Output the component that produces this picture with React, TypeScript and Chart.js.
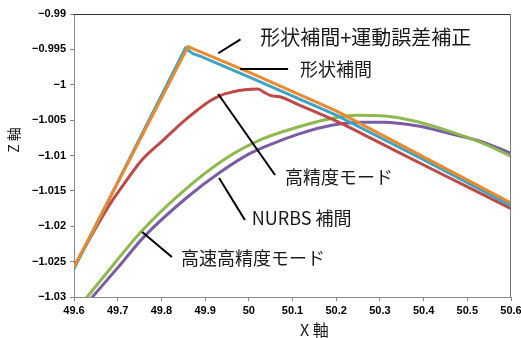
import React, { useEffect, useRef } from "react";
import { Chart, registerables } from "chart.js";

Chart.register(...registerables);

// ---- data ----
const xTickValues = [49.6, 49.7, 49.8, 49.9, 50.0, 50.1, 50.2, 50.3, 50.4, 50.5, 50.6];
const yTickValues = [-1.03, -1.025, -1.02, -1.015, -1.01, -1.005, -1.0, -0.995, -0.99];

// 形状補間+運動誤差補正
const compX = [49.6, 49.861, 50.0, 50.2, 50.4, 50.6];
const compY = [-1.0258, -0.9946, -0.9982, -1.0037, -1.0102, -1.0167];

// 形状補間
const shapeX = [49.6, 49.855, 49.872, 49.89, 50.0, 50.2, 50.4, 50.6];
const shapeY = [-1.026, -0.9948, -0.9956, -0.996, -0.9989, -1.0043, -1.0106, -1.0171];

// 高精度モード
const hpX = [49.6, 49.641, 49.684, 49.717, 49.753, 49.801, 49.852, 49.882, 49.911, 49.936, 49.964, 49.991, 50.021, 50.033, 50.049, 50.071, 50.117, 50.17, 50.209, 50.255, 50.415, 50.6];
const hpY = [-1.0257, -1.0212, -1.0167, -1.0138, -1.0108, -1.008, -1.0051, -1.0036, -1.0023, -1.0015, -1.001, -1.0007, -1.0006, -1.001, -1.0015, -1.0017, -1.0029, -1.0043, -1.0054, -1.0068, -1.0118, -1.0175];

// NURBS 補間
const nurbsX = [49.6, 49.63, 49.692, 49.753, 49.847, 49.943, 50.03, 50.117, 50.186, 50.247, 50.312, 50.384, 50.46, 50.536, 50.6];
const nurbsY = [-1.0323, -1.03, -1.0253, -1.0208, -1.0152, -1.0106, -1.0077, -1.0059, -1.0048, -1.0043, -1.0044, -1.0052, -1.0066, -1.0083, -1.0101];

// 高速高精度モード
const hsX = [49.6, 49.642, 49.701, 49.76, 49.859, 49.936, 50.003, 50.072, 50.117, 50.193, 50.255, 50.307, 50.384, 50.46, 50.536, 50.6];
const hsY = [-1.033, -1.03, -1.0258, -1.0215, -1.0159, -1.0123, -1.0097, -1.0079, -1.0069, -1.0057, -1.0053, -1.0053, -1.0058, -1.0069, -1.0081, -1.0097];

// annotation pointer lines [x1, y1, x2, y2] in data units
const pointerLines = [
  [49.93, -0.99555, 49.981, -0.99358],
  [49.98, -0.99777, 50.09, -0.99777],
  [49.93, -1.00131, 50.06, -1.01276],
  [49.932, -1.01318, 49.991, -1.01912],
  [49.756, -1.02081, 49.824, -1.02435],
];
const labelTexts = ["形状補間+運動誤差補正", "形状補間", "高精度モード", "NURBS 補間", "高速高精度モード"];
const labelX = [50.026, 50.117, 50.083, 50.007, 49.845];
const labelY = [-0.99325, -0.99777, -1.01311, -1.0189, -1.02456];
const labelSize = [20, 18, 18, 18, 18];

const zip = (xs: number[], ys: number[]) => xs.map((x, i) => ({ x, y: ys[i] }));

const fmtX = (v: number) => String(Number(v.toFixed(1)));
const fmtY = (v: number) => String(Number(v.toFixed(3))).replace("-", "\u2212");

const decorPlugin = {
  id: "decor",
  afterDatasetsDraw(chart: any) {
    const { ctx, scales } = chart;
    const xs = scales.x;
    const ys = scales.y;
    ctx.save();
    ctx.strokeStyle = "#000";
    ctx.lineWidth = 2;
    ctx.lineCap = "butt";
    pointerLines.forEach(([x1, y1, x2, y2]) => {
      ctx.beginPath();
      ctx.moveTo(xs.getPixelForValue(x1), ys.getPixelForValue(y1));
      ctx.lineTo(xs.getPixelForValue(x2), ys.getPixelForValue(y2));
      ctx.stroke();
    });
    ctx.fillStyle = "#1a1a1a";
    ctx.textBaseline = "middle";
    ctx.textAlign = "left";
    labelTexts.forEach((t, i) => {
      ctx.font = `${labelSize[i]}px "Noto Sans CJK JP"`;
      ctx.fillText(t, xs.getPixelForValue(labelX[i]), ys.getPixelForValue(labelY[i]));
    });
    ctx.restore();
  },
  afterDraw(chart: any) {
    const { ctx, chartArea } = chart;
    const { left, right, top, bottom } = chartArea;
    ctx.save();
    ctx.lineWidth = 1;
    ctx.strokeStyle = "#333";
    ctx.beginPath();
    ctx.moveTo(left, top + 0.5);
    ctx.lineTo(right, top + 0.5);
    ctx.stroke();
    ctx.strokeStyle = "#777";
    ctx.beginPath();
    ctx.moveTo(right - 0.5, top);
    ctx.lineTo(right - 0.5, bottom);
    ctx.stroke();
    // axis titles
    ctx.fillStyle = "#1a1a1a";
    ctx.textAlign = "center";
    ctx.textBaseline = "middle";
    ctx.font = `16px "Noto Sans CJK JP"`;
    ctx.fillText("X 軸", left + (right - left) * 0.55, bottom + 33);
    ctx.save();
    ctx.translate(14, top + (bottom - top) * 0.445);
    ctx.rotate(-Math.PI / 2);
    ctx.font = `14px "Noto Sans CJK JP"`;
    ctx.fillText("Z 軸", 0, 0);
    ctx.restore();
    ctx.restore();
  },
};

export default function App() {
  const ref = useRef<HTMLCanvasElement | null>(null);
  useEffect(() => {
    document.body.style.margin = "0";
    const canvas = ref.current!;
    const tickFont = { family: "Liberation Sans", size: 11, weight: "bold" as const };
    const mk = (label: string, data: any, color: string, smooth: boolean) => ({
      label,
      data,
      borderColor: color,
      backgroundColor: color,
      borderWidth: 3,
      pointRadius: 0,
      cubicInterpolationMode: smooth ? ("monotone" as const) : ("default" as const),
      tension: smooth ? 0.4 : 0,
      fill: false,
    });
    const chart = new Chart(canvas, {
      type: "line",
      data: {
        datasets: [
          mk("形状補間+運動誤差補正", zip(compX, compY), "#E98A2E", false),
          mk("形状補間", zip(shapeX, shapeY), "#3FA3C2", false),
          mk("高精度モード", zip(hpX, hpY), "#BD4A47", true),
          mk("NURBS 補間", zip(nurbsX, nurbsY), "#8DB94E", true),
          mk("高速高精度モード", zip(hsX, hsY), "#7B5CA4", true),
        ],
      },
      options: {
        responsive: false,
        animation: false,
        layout: { padding: { left: 0, right: 10, top: 14, bottom: 0 } },
        plugins: { legend: { display: false }, tooltip: { enabled: false } },
        scales: {
          x: {
            type: "linear",
            min: 49.6,
            max: 50.6,
            afterBuildTicks: (s: any) => {
              s.ticks = xTickValues.map((value) => ({ value }));
            },
            afterFit: (s: any) => {
              s.height = 41;
              s.paddingLeft = 0;
              s.paddingRight = 0;
            },
            ticks: {
              callback: (v: any) => fmtX(Number(v)),
              font: tickFont,
              color: "#000",
              padding: 3,
              maxRotation: 0,
              autoSkip: false,
            },
            grid: { drawOnChartArea: false, tickLength: 4, color: "#888" },
            border: { color: "#888", width: 1 },
          },
          y: {
            type: "linear",
            min: -1.03,
            max: -0.99,
            afterBuildTicks: (s: any) => {
              s.ticks = yTickValues.map((value) => ({ value }));
            },
            afterFit: (s: any) => {
              s.width = 74;
              s.paddingTop = 0;
              s.paddingBottom = 0;
            },
            ticks: {
              callback: (v: any) => fmtY(Number(v)),
              font: tickFont,
              color: "#000",
              padding: 4,
              autoSkip: false,
            },
            grid: { drawOnChartArea: false, tickLength: 4, color: "#888" },
            border: { color: "#888", width: 1 },
          },
        },
      },
      plugins: [decorPlugin],
    });
    return () => chart.destroy();
  }, []);
  return <canvas ref={ref} width={521} height={338} style={{ display: "block" }} />;
}
